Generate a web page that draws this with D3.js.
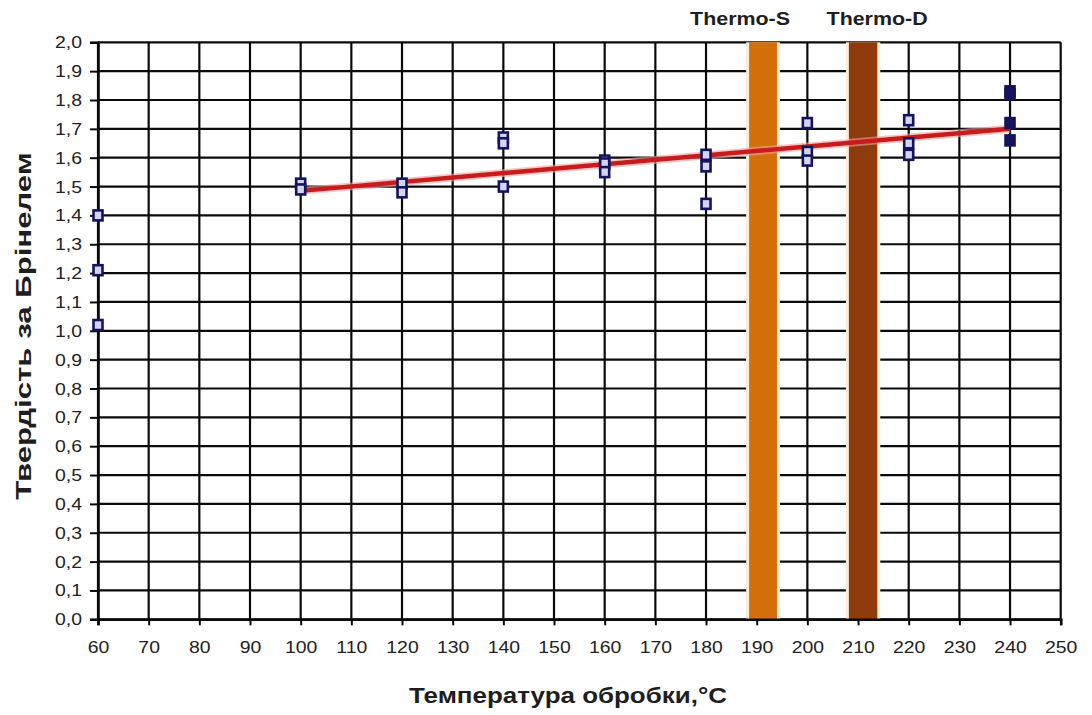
<!DOCTYPE html>
<html>
<head>
<meta charset="utf-8">
<script src="https://cdn.jsdelivr.net/npm/d3@7"></script>
<style>
  body { margin: 0; background: #fff; }
  svg { display: block; font-family: "Liberation Sans", Arial, sans-serif; }
</style>
</head>
<body>
<svg id="chart" width="1092" height="715"></svg>
<script>
// measured samples: treatment temperature (°C) and Brinell hardness
const sampleTemps = [60, 60, 60, 100, 100, 120, 120, 140, 140, 140, 160, 160, 160,
                     180, 180, 180, 200, 200, 200, 220, 220, 220, 240, 240, 240, 240];
const sampleHardness = [1.40, 1.21, 1.02, 1.51, 1.49, 1.51, 1.48, 1.67, 1.65, 1.50, 1.59, 1.58, 1.55,
                        1.61, 1.57, 1.44, 1.72, 1.62, 1.59, 1.73, 1.65, 1.61, 1.83, 1.82, 1.72, 1.66];

// linear trend
const trendTemps = [100, 240];
const trendHardness = [1.485, 1.70];

// process bands
const bandNames = ["Thermo-S", "Thermo-D"];
const bandFrom = [188.5, 208.2];
const bandTo = [194.0, 213.8];

const xTicks = d3.range(60, 251, 10);
const yTicks = d3.range(0, 21).map(d => d / 10);

const xTitle = "Температура обробки,°С";
const yTitle = "Твердість за Брінелем";

const svg = d3.select("#chart");
const fmt = d => d3.format(".1f")(d).replace(".", ",");

const x = d3.scaleLinear().domain([60, 250]).range([98, 1060.7]);
const y = d3.scaleLinear().domain([0, 2]).range([619.3, 42.3]);

const bandFill = ["#d4700c", "#8e3a0b"];
const labelShift = [-23, 14];

// pale halo behind the bands, like the original
const bands = svg.append("g");
bandNames.forEach((n, i) => {
    bands.append("rect")
        .attr("x", x(bandFrom[i]) - 3).attr("width", x(bandTo[i]) - x(bandFrom[i]) + 6)
        .attr("y", y(2)).attr("height", y(0) - y(2))
        .attr("fill", "#fdebd3");
});

// grid
const grid = svg.append("g").attr("stroke", "#0a0a0a").attr("stroke-width", 2.2);
grid.selectAll(".gx").data(xTicks).enter().append("line")
    .attr("x1", d => x(d)).attr("x2", d => x(d))
    .attr("y1", y(2)).attr("y2", y(0));
grid.selectAll(".gy").data(yTicks).enter().append("line")
    .attr("x1", x(60)).attr("x2", x(250))
    .attr("y1", d => y(d)).attr("y2", d => y(d));

bandNames.forEach((n, i) => {
    bands.append("rect")
        .attr("x", x(bandFrom[i])).attr("width", x(bandTo[i]) - x(bandFrom[i]))
        .attr("y", y(2)).attr("height", y(0) - y(2))
        .attr("fill", bandFill[i]);
});
svg.node().appendChild(bands.node());

// axes
const xAxis = svg.append("g").attr("transform", "translate(0," + y(0) + ")")
    .call(d3.axisBottom(x).tickValues(xTicks).tickSize(6).tickPadding(16).tickFormat(d3.format("d")));
const yAxis = svg.append("g").attr("transform", "translate(" + x(60) + ",0)")
    .call(d3.axisLeft(y).tickValues(yTicks).tickSize(8).tickPadding(6).tickFormat(fmt));
[xAxis, yAxis].forEach(a => {
    a.select(".domain").attr("stroke", "#0a0a0a").attr("stroke-width", 2.6);
    a.selectAll(".tick line").attr("stroke", "#0a0a0a").attr("stroke-width", 2);
    a.selectAll(".tick text").attr("font-size", 17.2).attr("fill", "#222")
        .attr("font-family", "Liberation Sans, Arial, sans-serif");
});
xAxis.selectAll(".tick text").each(function () {
    const t = d3.select(this);
    t.attr("transform", "translate(0," + (+t.attr("y") - 1) + ") scale(1.13,1)").attr("y", 0).attr("dy", "0.71em");
});
yAxis.selectAll(".tick text").each(function () {
    const t = d3.select(this);
    t.attr("transform", "translate(" + (+t.attr("x") - 2) + ",0) scale(1.13,1)").attr("x", 0);
});

// trend line
const trendLine = d3.line().x(d => x(d[0])).y(d => y(d[1]));
const trendPts = trendTemps.map((t, i) => [t, trendHardness[i]]);
svg.append("path").datum(trendPts).attr("d", trendLine)
    .attr("stroke", "#f4a0a0").attr("stroke-width", 8).attr("fill", "none").attr("opacity", 0.6);
svg.append("path").datum(trendPts).attr("d", trendLine)
    .attr("stroke", "#c81c1c").attr("stroke-width", 4.5).attr("fill", "none");

// sample markers
const lastT = d3.max(sampleTemps);
svg.append("g").selectAll("rect").data(sampleTemps).enter().append("rect")
    .attr("x", d => x(d) - 4.5).attr("y", (d, i) => y(sampleHardness[i]) - 5)
    .attr("width", 9).attr("height", 10)
    .attr("fill", d => d === lastT ? "#14145e" : "#d4d4ee")
    .attr("stroke", "#14145e").attr("stroke-width", 2.6);

// band labels
bandNames.forEach((n, i) => {
    svg.append("text")
        .attr("transform", "translate(" + (x((bandFrom[i] + bandTo[i]) / 2) + labelShift[i]) + ",25) scale(1.19,1)")
        .attr("text-anchor", "middle").attr("font-size", 18).attr("font-weight", "bold")
        .attr("fill", "#1e1e1e").text(n);
});

// axis titles
svg.append("text")
    .attr("transform", "translate(568,703) scale(1.18,1)")
    .attr("text-anchor", "middle").attr("font-size", 22).attr("font-weight", "bold")
    .attr("fill", "#1e1e1e").text(xTitle);
svg.append("text")
    .attr("transform", "translate(31,326) rotate(-90) scale(1.45,1)")
    .attr("text-anchor", "middle").attr("font-size", 21.5).attr("font-weight", "bold")
    .attr("fill", "#1e1e1e").text(yTitle);
</script>
</body>
</html>
